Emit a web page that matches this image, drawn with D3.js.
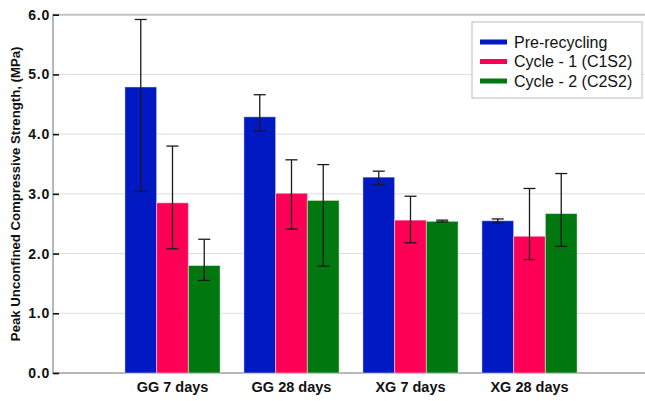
<!DOCTYPE html>
<html>
<head>
<meta charset="utf-8">
<script src="https://cdn.jsdelivr.net/npm/d3@7"></script>
<style>
  body { margin: 0; background: #fff; }
  text { font-family: "Liberation Sans", Arial, sans-serif; }
</style>
</head>
<body>
<div id="chart"></div>
<script>
const categories = ["GG 7 days", "GG 28 days", "XG 7 days", "XG 28 days"];
const seriesNames = ["Pre-recycling", "Cycle - 1 (C1S2)", "Cycle - 2 (C2S2)"];
const seriesColors = ["#0019c3", "#ff0057", "#00780f"];

// mean values per series, one per category
const preRecycling = [4.79, 4.29, 3.28, 2.55];
const cycle1 = [2.85, 3.01, 2.56, 2.29];
const cycle2 = [1.80, 2.89, 2.54, 2.67];

// error bar ends (low / high)
const preLow = [3.04, 4.05, 3.15, 2.51];
const preHigh = [5.92, 4.66, 3.38, 2.58];
const c1Low = [2.08, 2.41, 2.18, 1.90];
const c1High = [3.80, 3.57, 2.96, 3.09];
const c2Low = [1.55, 1.79, 2.53, 2.12];
const c2High = [2.24, 3.49, 2.56, 3.34];

const yTicks = [0, 1, 2, 3, 4, 5, 6];

const W = 645, H = 401;
const plotLeft = 53, plotRight = 645, plotTop = 14.7, plotBottom = 373;

const svg = d3.select("#chart").append("svg")
  .attr("width", W)
  .attr("height", H);

const x0 = d3.scaleBand().domain(categories).range([113, 589])
  .paddingInner(0.2).paddingOuter(0.1);
const x1 = d3.scaleBand().domain(seriesNames).range([0, x0.bandwidth()]);
const y = d3.scaleLinear().domain([0, 6]).range([plotBottom, plotTop]);

// gridlines
svg.append("g")
  .selectAll("line")
  .data(yTicks.filter(t => t > 0 && t < 6))
  .join("line")
    .attr("x1", plotLeft).attr("x2", plotRight)
    .attr("y1", d => y(d)).attr("y2", d => y(d))
    .attr("stroke", "#dedede").attr("stroke-width", 1);

// frame lines
svg.append("line").attr("x1", plotLeft).attr("x2", plotRight).attr("y1", y(6)).attr("y2", y(6))
  .attr("stroke", "#c4c4c4").attr("stroke-width", 2);
svg.append("line").attr("x1", plotLeft).attr("x2", plotRight).attr("y1", y(0)).attr("y2", y(0))
  .attr("stroke", "#b8b8b8").attr("stroke-width", 2);
svg.append("line").attr("x1", plotLeft).attr("x2", plotLeft).attr("y1", y(6) - 1).attr("y2", y(0) + 1)
  .attr("stroke", "#b8b8b8").attr("stroke-width", 2);

// y axis ticks + labels
const yAxis = svg.append("g")
  .attr("transform", `translate(${plotLeft},0)`)
  .call(d3.axisRight(y).tickValues(yTicks).tickSize(6).tickFormat(d3.format(".1f")));
yAxis.select(".domain").remove();
yAxis.selectAll(".tick line").attr("stroke", "#111").attr("stroke-width", 1.6);
yAxis.selectAll(".tick text")
  .attr("x", -3)
  .attr("text-anchor", "end")
  .attr("font-size", "14px")
  .attr("font-weight", "bold")
  .attr("letter-spacing", "0.8px")
  .attr("fill", "#111")
  .attr("font-family", "Liberation Sans, Arial, sans-serif");

// bars
const rows = categories.map((c, i) => ({
  cat: c,
  values: [
    { s: seriesNames[0], v: preRecycling[i], lo: preLow[i], hi: preHigh[i], color: seriesColors[0] },
    { s: seriesNames[1], v: cycle1[i], lo: c1Low[i], hi: c1High[i], color: seriesColors[1] },
    { s: seriesNames[2], v: cycle2[i], lo: c2Low[i], hi: c2High[i], color: seriesColors[2] }
  ]
}));

const groups = svg.append("g")
  .selectAll("g")
  .data(rows)
  .join("g")
    .attr("transform", d => `translate(${x0(d.cat)},0)`);

groups.selectAll("rect")
  .data(d => d.values)
  .join("rect")
    .attr("x", d => x1(d.s))
    .attr("y", d => y(d.v))
    .attr("width", x1.bandwidth())
    .attr("height", d => y(0) - y(d.v))
    .attr("fill", d => d.color)
    .attr("stroke", "rgba(255,255,255,0.45)")
    .attr("stroke-width", 1);

// error bars
const capW = 6;
const eb = groups.selectAll("g.err")
  .data(d => d.values)
  .join("g")
    .attr("class", "err")
    .attr("transform", d => `translate(${x1(d.s) + x1.bandwidth() / 2},0)`)
    .attr("stroke", "#1a1a1a")
    .attr("stroke-width", 1.3);
eb.append("line").attr("y1", d => y(d.lo)).attr("y2", d => y(d.hi));
eb.append("line").attr("x1", -capW).attr("x2", capW).attr("y1", d => y(d.hi)).attr("y2", d => y(d.hi));
eb.append("line").attr("x1", -capW).attr("x2", capW).attr("y1", d => y(d.lo)).attr("y2", d => y(d.lo));

// x labels
svg.append("g")
  .selectAll("text")
  .data(categories)
  .join("text")
    .attr("x", d => x0(d) + x0.bandwidth() / 2)
    .attr("y", 392)
    .attr("text-anchor", "middle")
    .attr("font-size", "14.5px")
    .attr("font-weight", "bold")
    .attr("fill", "#111")
    .text(d => d);

// y title
svg.append("text")
  .attr("transform", `translate(20,${(y(0) + y(6)) / 2}) rotate(-90)`)
  .attr("text-anchor", "middle")
  .attr("font-size", "13.2px")
  .attr("font-weight", "bold")
  .attr("fill", "#111")
  .text("Peak Unconfined Compressive Strength, (MPa)");

// legend
const lg = svg.append("g").attr("transform", "translate(472,22)");
lg.append("rect")
  .attr("width", 170).attr("height", 76)
  .attr("fill", "#fff")
  .attr("stroke", "#bdbdbd").attr("stroke-width", 1);
const li = lg.selectAll("g.item")
  .data(seriesNames)
  .join("g")
    .attr("class", "item")
    .attr("transform", (d, i) => `translate(8,${20 + i * 19.5})`);
li.append("rect")
  .attr("x", 0).attr("y", -2.5)
  .attr("width", 27).attr("height", 5)
  .attr("fill", (d, i) => seriesColors[i]);
li.append("text")
  .attr("x", 34).attr("y", 5.5)
  .attr("font-size", "16px")
  .attr("fill", "#111")
  .text(d => d);
</script>
</body>
</html>
